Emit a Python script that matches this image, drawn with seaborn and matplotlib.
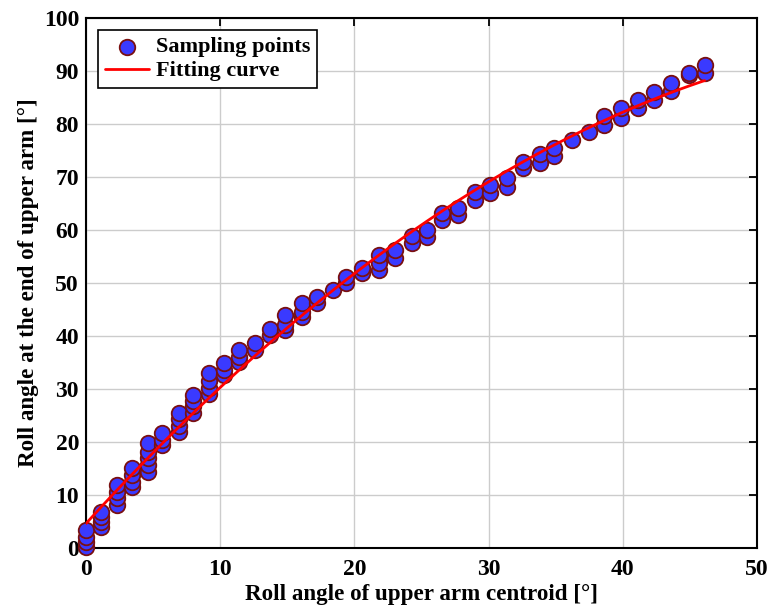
import numpy as np
import pandas as pd
import matplotlib
matplotlib.use("Agg")
import matplotlib.pyplot as plt
import seaborn as sns

# Sampled roll angles: centroid angle (x) and the end-of-arm angles recorded at it
centroid_angles = [0.0, 1.1, 2.3, 3.4, 4.6, 5.7, 6.9, 8.0, 9.2, 10.3,
                   11.4, 12.6, 13.7, 14.8, 16.1, 17.2, 18.4, 19.4, 20.6, 21.8,
                   23.0, 24.3, 25.4, 26.5, 27.7, 29.0, 30.1, 31.4, 32.6, 33.8,
                   34.9, 36.2, 37.5, 38.6, 39.9, 41.1, 42.3, 43.6, 44.9, 46.1]
end_angles = [
    [0.2, 1.1, 2.1, 3.4],
    [4.0, 4.9, 5.8, 6.8],
    [8.1, 9.4, 10.6, 11.9],
    [11.5, 12.5, 13.8, 15.1],
    [14.3, 15.7, 17.0, 18.1, 19.8],
    [19.4, 20.4, 21.7],
    [21.9, 23.0, 24.3, 25.5],
    [25.5, 26.7, 27.7, 28.9],
    [29.0, 30.2, 31.5, 33.0],
    [32.7, 33.5, 34.9],
    [35.0, 36.0, 37.4],
    [37.3, 38.7],
    [40.2, 41.3],
    [41.1, 42.1, 44.0],
    [43.6, 44.5, 46.2],
    [46.2, 47.4],
    [48.7],
    [50.0, 51.1],
    [51.8, 52.8],
    [52.5, 53.8, 55.3],
    [54.8, 56.2],
    [57.5, 58.9],
    [58.7, 60.0],
    [61.9, 63.2],
    [62.8, 64.2],
    [65.7, 67.1],
    [67.0, 68.5],
    [68.1, 69.8],
    [71.7, 72.8],
    [72.7, 74.3],
    [73.9, 75.5],
    [77.0],
    [78.4],
    [79.8, 81.5],
    [81.2, 83.1],
    [83.0, 84.5],
    [84.5, 86.1],
    [86.2, 87.7],
    [89.3, 89.6],
    [89.6, 91.1],
]

x_ticks = [0, 10, 20, 30, 40, 50]
y_ticks = [0, 10, 20, 30, 40, 50, 60, 70, 80, 90, 100]

samples = pd.DataFrame(
    [(x, y) for x, ys in zip(centroid_angles, end_angles) for y in ys],
    columns=["centroid", "end"],
)

# Quadratic least-squares fit through the samples
coef = np.polyfit(samples["centroid"], samples["end"], 2)
fit_x = np.linspace(min(centroid_angles), max(centroid_angles), 200)
fit = pd.DataFrame({"centroid": fit_x, "end": np.polyval(coef, fit_x)})

sns.set_theme(style="white")
plt.rcParams["font.family"] = ["Liberation Serif", "DejaVu Serif"]
plt.rcParams["font.weight"] = "bold"
plt.rcParams["axes.labelweight"] = "bold"
plt.rcParams["text.color"] = "black"
plt.rcParams["axes.labelcolor"] = "black"
plt.rcParams["xtick.color"] = "black"
plt.rcParams["ytick.color"] = "black"

fig = plt.figure(figsize=(7.69, 6.09), dpi=100)
ax = fig.add_axes([0.1118, 0.1002, 0.8726, 0.8702])

sns.scatterplot(data=samples, x="centroid", y="end", ax=ax,
                s=125, color="#3a3aff", edgecolor="#7a1010", linewidth=1.3,
                label="Sampling points", zorder=3, clip_on=False)
sns.lineplot(data=fit, x="centroid", y="end", ax=ax,
             color="#ff0000", linewidth=2.0, label="Fitting curve", zorder=4)

ax.set_xlim(0, 50)
ax.set_ylim(0, 100)
ax.set_xticks(x_ticks)
ax.set_yticks(y_ticks)
ax.grid(True, color="#cccccc", linewidth=1.0)
ax.set_axisbelow(True)

for side in ["left", "right", "top", "bottom"]:
    ax.spines[side].set_visible(True)
    ax.spines[side].set_color("black")
    ax.spines[side].set_linewidth(1.5)

ax.tick_params(direction="in", length=6, width=1.3, top=True, right=True,
               labelsize=17, colors="black")
ax.tick_params(axis="x", pad=8)
ax.tick_params(axis="y", pad=5)
for lab in ax.get_xticklabels() + ax.get_yticklabels():
    lab.set_fontweight("bold")

ax.set_xlabel("Roll angle of upper arm centroid [°]", fontsize=16.6,
              fontweight="bold", labelpad=3)
ax.set_ylabel("Roll angle at the end of upper arm [°]", fontsize=16.6,
              fontweight="bold", labelpad=3)

leg = ax.legend(loc="upper left", fontsize=16, frameon=True, fancybox=False,
                edgecolor="black", framealpha=1, borderaxespad=0.55,
                handlelength=2.0, handletextpad=0.3, borderpad=0.3,
                labelspacing=0.15)
leg.get_frame().set_linewidth(1.2)
for t in leg.get_texts():
    t.set_fontweight("bold")
    t.set_color("black")

fig.savefig("out.png", dpi=100)
